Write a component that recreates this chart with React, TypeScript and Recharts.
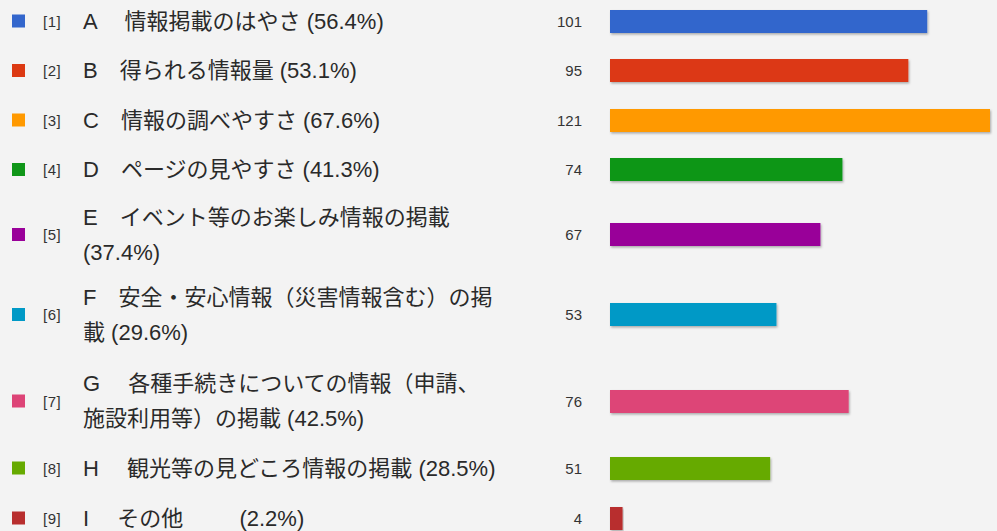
import React from 'react';
import { BarChart, Bar, XAxis, YAxis } from 'recharts';

const codes = ['[1]', '[2]', '[3]', '[4]', '[5]', '[6]', '[7]', '[8]', '[9]'];
const labels: string[][] = [
  ['A　 情報掲載のはやさ (56.4%)'],
  ['B　得られる情報量 (53.1%)'],
  ['C　情報の調べやすさ (67.6%)'],
  ['D　ページの見やすさ (41.3%)'],
  ['E　イベント等のお楽しみ情報の掲載', '(37.4%)'],
  ['F　安全・安心情報（災害情報含む）の掲', '載 (29.6%)'],
  ['G　 各種手続きについての情報（申請、', '施設利用等）の掲載 (42.5%)'],
  ['H　 観光等の見どころ情報の掲載 (28.5%)'],
  ['I　 その他　　  (2.2%)'],
];
const counts = [101, 95, 121, 74, 67, 53, 76, 51, 4];
const colors = ['#3366cc', '#dc3912', '#ff9900', '#109618', '#990099', '#0099c6', '#dd4477', '#66aa00', '#b82e2e'];
const rowHeights = [50, 49, 50, 49, 81, 79, 94, 40, 60];
const maxValue = 121;

const FONT = "'Liberation Sans', 'Noto Sans CJK JP', sans-serif";

function makeTick(i: number) {
  return (props: any) => {
    const { y } = props;
    const lines = labels[i];
    const lh = 35;
    const start = y - ((lines.length - 1) * lh) / 2;
    return (
      <g>
        <rect x={12} y={y - 6.5} width={13} height={13} fill={colors[i]} />
        <text x={43} y={y} dominantBaseline="central" fontSize={15} letterSpacing={0.5} fill="#333" fontFamily={FONT}>
          {codes[i]}
        </text>
        {lines.map((ln, k) => (
          <text
            key={k}
            x={83}
            y={start + k * lh}
            dominantBaseline="central"
            fontSize={22}
            fill="#2a2a2a"
            fontFamily={FONT}
            style={{ whiteSpace: 'pre' }}
          >
            {ln}
          </text>
        ))}
        <text x={582} y={y} dominantBaseline="central" textAnchor="end" fontSize={15} fill="#333" fontFamily={FONT}>
          {counts[i]}
        </text>
      </g>
    );
  };
}

function makeShape(i: number) {
  return (props: any) => {
    const { x, y, width, height, fill } = props;
    const fid = `shadow-${i}`;
    return (
      <g>
        <defs>
          <filter id={fid} x="-5%" y="-30%" width="110%" height="160%">
            <feDropShadow dx={1} dy={1.5} stdDeviation={1} floodColor="#000" floodOpacity={0.3} />
          </filter>
        </defs>
        <rect x={x} y={y} width={width} height={height} fill={fill} filter={`url(#${fid})`} />
      </g>
    );
  };
}

function Row({ i }: { i: number }) {
  const data = [{ name: codes[i], value: counts[i] }];
  return (
    <BarChart
      width={997}
      height={rowHeights[i]}
      data={data}
      layout="vertical"
      margin={{ top: 0, right: 7, bottom: 0, left: 0 }}
    >
      <XAxis type="number" domain={[0, maxValue]} hide />
      <YAxis
        type="category"
        dataKey="name"
        width={610}
        axisLine={false}
        tickLine={false}
        tick={makeTick(i)}
        interval={0}
      />
      <Bar dataKey="value" fill={colors[i]} barSize={23} isAnimationActive={false} shape={makeShape(i)} />
    </BarChart>
  );
}

export default function App() {
  return (
    <div
      style={{
        position: 'fixed',
        left: 0,
        top: 0,
        width: 997,
        height: 531,
        background: '#f3f3f3',
        overflow: 'hidden',
        fontFamily: FONT,
      }}
    >
      <div style={{ marginTop: -4.5 }}>
        {counts.map((_, i) => (
          <Row key={i} i={i} />
        ))}
      </div>
    </div>
  );
}
